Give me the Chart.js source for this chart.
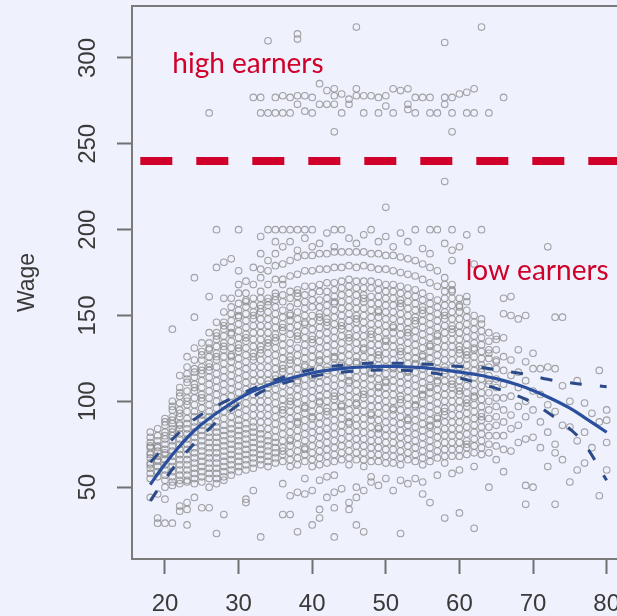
<!DOCTYPE html>
<html>
<head>
<meta charset="utf-8">
<script src="https://cdn.jsdelivr.net/npm/chart.js@4.4.1/dist/chart.umd.min.js"></script>
<style>
  html, body { margin: 0; padding: 0; background: #eff1fc; overflow: hidden; }
  #wrap { position: relative; width: 630px; height: 616px; }
</style>
</head>
<body>
<div id="wrap"><canvas id="wageChart"></canvas></div>
<script>
// one wage column per age (18 .. 80)
const scatterAges = [18,19,20,21,22,23,24,25,26,27,28,29,30,31,32,33,34,35,36,37,38,39,40,41,42,43,44,45,46,47,48,49,
  50,51,52,53,54,55,56,57,58,59,60,61,62,63,64,65,66,67,68,69,70,71,72,73,74,75,76,77,78,79,80];
const wageColumns = [
  [79,76,73,70,67,64,61,58,55,74,69,63,82,44],
  [80,77,74,71,68,65,62,59,56,73,66,84,46,32,29],
  [90,86,82,78,75,72,69,66,63,60,57,54,88,80,70,43,50,29],
  [100,95,91,87,84,80,77,74,71,68,65,62,59,56,53,97,89,82,142,29,51],
  [108,103,99,95,91,87,84,81,78,75,72,69,66,63,60,57,54,105,93,86,115,39,36,52],
  [116,111,106,102,98,94,90,87,84,81,78,75,72,69,66,63,60,57,54,113,100,126,120,41,37,28,53],
  [124,119,114,110,106,102,98,94,91,88,85,82,79,76,73,70,67,64,61,58,55,131,117,108,149,172,44,52],
  [129,124,120,116,112,108,104,100,96,92,89,86,83,80,77,74,71,68,65,62,59,56,134,127,118,102,53,38],
  [134,130,126,122,118,114,110,106,102,98,94,91,88,85,82,79,76,73,70,67,64,61,58,55,140,131,120,161,38,50],
  [140,136,132,128,124,120,116,112,108,104,100,96,92,88,85,82,79,76,73,70,67,64,61,58,55,146,138,126,200,178,23,52],
  [146,142,138,134,130,126,122,118,114,110,106,102,98,94,90,86,83,80,77,74,71,68,65,62,59,56,152,144,132,181,160,34,54],
  [151,147,143,139,135,131,127,123,119,115,111,107,103,99,95,91,87,84,81,78,75,72,69,66,63,60,57,155,140,183,160,126],
  [157,153,149,145,141,137,133,129,125,121,117,113,109,105,101,97,93,89,86,83,80,77,74,71,68,65,62,59,200,176,168,163,150,131],
  [163,159,155,151,147,143,139,135,131,127,123,119,115,111,107,103,99,95,91,87,84,81,78,75,72,69,66,63,60,170,158,137,43,41],
  [168,160,156,152,148,144,140,136,132,128,124,120,116,112,108,104,100,96,92,88,85,82,79,76,73,70,67,64,61,178,150,126,48],
  [172,164,160,156,152,148,144,140,136,132,128,124,120,116,112,108,104,100,96,92,88,84,81,78,75,72,69,66,63,196,186,177,154,130,21],
  [176,168,160,156,152,148,144,140,136,132,128,124,120,116,112,108,104,100,96,92,88,84,80,77,74,71,68,65,62,200,182,158,134,110],
  [179,171,163,159,155,151,147,143,139,135,131,127,123,119,115,111,107,103,99,95,91,87,83,79,76,73,70,67,64,200,193,186,161,137,113],
  [180,171,162,158,153,149,145,141,137,133,129,125,121,117,113,109,105,101,97,93,89,85,81,77,73,69,65,200,190,168,143,119,95,71,34,52],
  [182,173,164,160,155,151,147,143,139,134,130,126,122,118,114,110,106,102,98,94,90,86,82,78,74,70,66,62,200,193,150,124,100,77,45,34],
  [184,174,165,161,157,152,148,144,140,136,131,127,123,119,115,111,107,103,99,95,91,87,83,79,75,71,67,63,200,188,163,138,112,88,47,24],
  [185,176,167,162,158,154,150,146,141,137,133,129,125,121,117,113,109,105,101,97,93,89,85,81,77,73,69,65,200,195,145,120,96,72,55,46],
  [185,176,167,163,159,155,150,146,142,138,134,130,126,122,118,114,110,106,102,98,94,90,86,82,78,74,70,66,62,200,190,136,115,91,48,28],
  [186,177,168,164,159,155,151,147,143,139,135,131,127,123,119,115,111,107,103,99,95,91,87,83,79,75,71,67,63,192,149,124,100,54,37,32],
  [186,177,169,164,160,156,152,148,144,140,136,132,128,124,120,116,112,108,104,100,96,92,88,84,80,76,72,68,64,198,146,118,94,56,44],
  [187,178,169,165,161,157,153,149,145,141,137,133,129,125,121,117,113,109,105,101,97,93,89,85,81,77,73,69,65,200,190,158,126,103,57,47,38,21],
  [187,178,170,166,162,158,154,150,146,142,138,134,130,126,122,118,114,110,106,102,98,94,90,86,82,78,74,70,66,200,144,121,97,49],
  [187,179,171,167,163,159,155,151,147,143,139,135,131,127,123,119,115,111,107,103,99,95,91,87,83,79,75,71,67,63,195,137,112,88,41,37],
  [187,178,170,166,162,158,154,150,146,142,138,134,130,126,122,118,114,110,106,102,98,94,90,86,82,78,74,70,66,192,148,123,99,50,44,28],
  [187,179,170,166,162,158,154,150,146,142,138,134,130,126,122,118,114,110,106,102,98,94,90,86,82,78,74,70,66,62,197,160,131,104,48,24],
  [186,178,170,166,161,157,153,149,145,141,137,133,129,125,121,117,113,109,105,101,97,93,89,85,81,77,73,69,65,200,139,116,92,56,53],
  [186,177,169,165,161,157,153,149,145,141,137,133,129,125,121,117,113,109,105,101,97,93,89,85,81,77,73,69,65,193,152,127,108,84,51],
  [185,177,168,164,160,156,152,148,144,140,136,132,128,124,120,116,112,108,104,100,96,92,88,84,80,76,72,68,64,213,196,135,111,55],
  [185,176,168,164,160,156,152,148,144,140,136,132,128,124,120,116,112,108,104,100,96,92,88,84,80,76,72,68,64,190,143,119,95,48],
  [184,175,167,163,159,155,151,147,143,139,135,131,127,123,119,115,111,107,103,99,95,91,87,83,79,75,71,67,63,198,157,129,101,54,23],
  [183,174,166,162,158,154,150,146,142,138,134,130,126,122,118,114,110,106,102,98,94,90,86,82,78,74,70,66,193,140,117,89,52],
  [182,173,165,161,157,153,149,145,141,137,133,129,125,121,117,113,109,105,101,97,93,89,85,81,77,73,69,65,200,147,122,98,55],
  [180,171,163,159,155,151,147,143,139,135,131,127,123,119,115,111,107,103,99,95,91,87,83,79,75,71,67,63,189,153,126,104,53,46],
  [178,169,161,157,153,149,145,141,137,133,129,125,121,117,113,109,105,101,97,93,89,85,81,77,73,69,65,200,186,132,108,86,41],
  [176,167,159,155,151,147,143,139,135,131,127,123,119,115,111,107,103,99,95,91,87,83,79,75,71,67,200,138,112,90,57],
  [172,168,164,160,156,152,148,144,140,136,132,128,124,120,116,112,108,104,100,96,92,88,84,80,76,72,68,64,228,192,150,118,94,32],
  [168,164,160,156,152,148,144,140,136,132,128,124,120,116,112,108,104,100,96,92,88,84,80,76,72,68,200,188,182,165,142,110,58],
  [160,156,152,148,144,140,136,132,128,124,120,116,112,108,104,100,96,92,88,84,80,76,72,68,190,155,130,106,60,35],
  [158,153,149,145,141,137,133,129,125,121,117,113,109,105,101,97,93,89,85,81,77,73,69,197,161,127,99,75],
  [150,146,142,138,134,130,126,122,118,114,110,106,102,98,94,90,86,82,78,74,70,180,131,103,62,26],
  [145,141,137,133,129,125,121,117,113,109,105,101,97,93,89,85,81,77,73,69,200,148,119,91],
  [140,135,130,125,120,115,110,105,100,95,90,85,80,75,70,128,112,50],
  [136,130,124,119,113,108,102,97,91,86,80,74,138,123,66],
  [160,151,137,126,118,110,102,95,88,80,72,59],
  [161,150,124,115,103,92,84,71],
  [148,130,117,108,97,86,76],
  [150,123,112,100,91,78,51,40],
  [128,119,106,95,79,50],
  [119,104,88,73],
  [190,120,98,82,62],
  [149,119,94,75,70,40],
  [149,109,86,66],
  [100,85,53],
  [112,77,60],
  [99,82,64],
  [93,73],
  [118,88,45],
  [95,89,76,60]
];

// the "high earners" group above the cut-off
const highAge  = [26,32,33,36,33,34,35,36,37,39,37,38,39,40,41,38,40,42,43,43,43,44,45,46,46,47,48,49,50,51,49,51,53,53,53,
  54,55,56,54,56,58,59,60,61,58,59,61,62,64,66,43,59,34,38,38,46,63,58,41,44,52,57,62,45,50,35,42,47];
const highWage = [268,277,277,278,268,268,268,268,268,269,277,278,278,277,285,273,268,273,273,282,278,268,273,282,278,278,278,277,278,282,268,268,282,273,270,
  277,277,277,268,268,277,277,279,280,273,268,268,268,268,277,257,257,310,314,311,318,318,309,273,279,281,268,282,276,272,277,281,268];

// degree-4 fit and its +/- 2 SE band
const fitAge  = [18,20,22,24,26,28,30,32,35,38,40,42,45,48,50,52,55,58,60,62,65,68,70,72,75,77,80];
const fitWage = [51.5,63.5,74,83,90,96,101.5,106,111,114.5,116.5,118,119.5,120.2,120.3,120.2,119.6,118.2,117,115.8,113.2,109.5,106.3,102.5,96,90.5,82];
const bandAge   = [18,20,22,24,26,28,30,32,35,40,45,50,55,60,63,65,68,70,72,75,77,80];
const bandUpper = [64.5,73.5,82,89.5,95,99.5,103.5,107.5,112.5,118.5,121.5,122.2,121.8,120.3,119.7,118.3,116.5,114.8,112.8,110.8,109.8,108.5];
const bandLower = [42,54.5,66,75.5,84,91.5,98,103,109,114.5,117.3,118.2,117.2,113.5,110,107.5,103,99,93.5,84,75,54];

// cut-off line between the two groups
const cutAge  = [16.65, 82.5];
const cutWage = 240;

const xTicks = [20, 30, 40, 50, 60, 70, 80];
const yTicks = [50, 100, 150, 200, 250, 300];

const points = [];
scatterAges.forEach((age, i) => {
    wageColumns[i].forEach(w => points.push({ x: age, y: w }));
});
highAge.forEach((age, i) => points.push({ x: age, y: highWage[i] }));

const toXY = (xs, ys) => xs.map((x, i) => ({ x: x, y: ys[i] }));

// tick labels, axis title and the two notes
const textPlugin = {
    id: 'rText',
    afterDraw(chart) {
        const ctx = chart.ctx;
        const sx = chart.scales.x, sy = chart.scales.y;
        const area = chart.chartArea;
        ctx.save();
        ctx.strokeStyle = '#7a7a7a';
        ctx.lineWidth = 2;
        ctx.beginPath();
        ctx.moveTo(area.left - 1, area.top);
        ctx.lineTo(area.right, area.top);
        ctx.stroke();

        ctx.fillStyle = '#3a3a3a';
        ctx.font = '24px Arial, "Liberation Sans", Helvetica, sans-serif';
        ctx.textAlign = 'center';
        ctx.textBaseline = 'middle';
        xTicks.forEach(v => ctx.fillText(String(v), sx.getPixelForValue(v), 604));
        yTicks.forEach(v => {
            ctx.save();
            ctx.translate(88, sy.getPixelForValue(v));
            ctx.rotate(-Math.PI / 2);
            ctx.fillText(String(v), 0, 0);
            ctx.restore();
        });
        ctx.save();
        ctx.font = '23px Arial, "Liberation Sans", Helvetica, sans-serif';
        ctx.translate(28, (area.top + area.bottom) / 2);
        ctx.rotate(-Math.PI / 2);
        ctx.fillText('Wage', 0, 0);
        ctx.restore();

        ctx.fillStyle = '#d0002a';
        ctx.font = '28px Lato, "Open Sans", sans-serif';
        ctx.textAlign = 'left';
        ctx.textBaseline = 'alphabetic';
        ctx.fillText('high earners', sx.getPixelForValue(21.0), sy.getPixelForValue(291.3));
        ctx.fillText('low earners', sx.getPixelForValue(60.85), sy.getPixelForValue(170.7));
        ctx.restore();
    }
};

const ctx = document.getElementById('wageChart').getContext('2d');
new Chart(ctx, {
    type: 'scatter',
    data: {
        datasets: [
            {
                label: 'fit',
                data: toXY(fitAge, fitWage),
                showLine: true,
                borderColor: '#2a4f9e',
                borderWidth: 3.2,
                pointRadius: 0,
                tension: 0.4,
                order: 1
            },
            {
                label: 'upper',
                data: toXY(bandAge, bandUpper),
                showLine: true,
                borderColor: '#2c4a88',
                borderWidth: 3,
                borderDash: [12, 18],
                pointRadius: 0,
                tension: 0.4,
                order: 2
            },
            {
                label: 'lower',
                data: toXY(bandAge, bandLower),
                showLine: true,
                borderColor: '#2c4a88',
                borderWidth: 3,
                borderDash: [12, 18],
                pointRadius: 0,
                tension: 0.4,
                order: 2
            },
            {
                label: 'cut',
                data: cutAge.map(a => ({ x: a, y: cutWage })),
                showLine: true,
                borderColor: '#d0002a',
                borderWidth: 8,
                borderDash: [32, 24],
                borderCapStyle: 'butt',
                pointRadius: 0,
                order: 3
            },
            {
                label: 'wage',
                data: points,
                pointStyle: 'circle',
                pointRadius: 3.3,
                pointBorderWidth: 1.1,
                pointBorderColor: 'rgba(135,135,135,0.75)',
                pointBackgroundColor: 'rgba(0,0,0,0)',
                order: 10
            }
        ]
    },
    options: {
        responsive: true,
        maintainAspectRatio: false,
        animation: false,
        layout: { padding: { top: 6, right: 4, left: 0, bottom: 0 } },
        plugins: {
            legend: { display: false },
            tooltip: { enabled: false }
        },
        scales: {
            x: {
                type: 'linear',
                min: 15.52,
                max: 82.48,
                afterBuildTicks: scale => { scale.ticks = xTicks.map(v => ({ value: v })); },
                afterFit: scale => { scale.height = 57; },
                ticks: { display: false },
                grid: { drawOnChartArea: false, tickLength: 15, tickColor: '#707070', tickWidth: 2 },
                border: { display: true, color: '#7a7a7a', width: 2 }
            },
            y: {
                type: 'linear',
                min: 8.15,
                max: 330.27,
                afterBuildTicks: scale => { scale.ticks = yTicks.map(v => ({ value: v })); },
                afterFit: scale => { scale.width = 132; },
                ticks: { display: false },
                grid: { drawOnChartArea: false, tickLength: 15, tickColor: '#707070', tickWidth: 2 },
                border: { display: true, color: '#7a7a7a', width: 2 }
            }
        }
    },
    plugins: [textPlugin]
});
</script>
</body>
</html>
